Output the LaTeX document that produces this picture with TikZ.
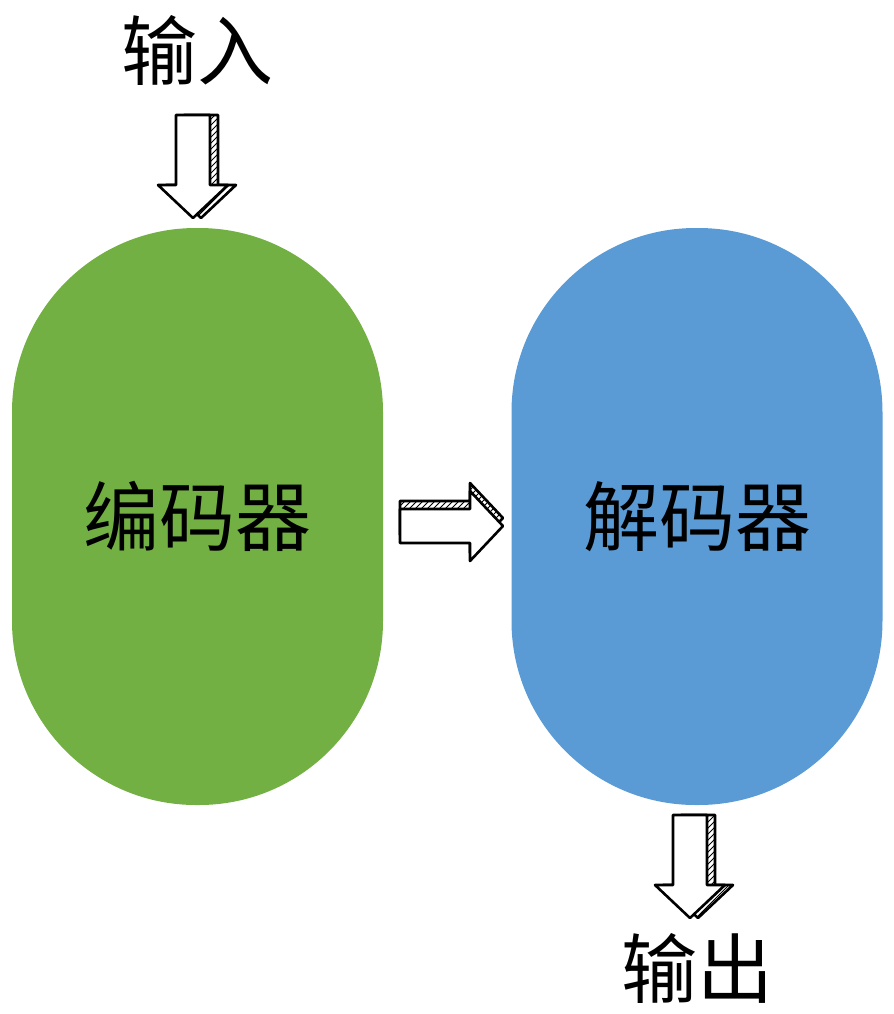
\documentclass[tikz,border=0pt]{standalone}
\usepackage{fontspec}
\newfontfamily\cjk{Noto Sans CJK SC}
\usetikzlibrary{patterns,positioning}
\definecolor{encgreen}{HTML}{72B043}
\definecolor{decblue}{HTML}{5B9BD5}
\tikzset{
  block/.style={rounded corners=92pt, minimum width=185.5pt, minimum height=288.5pt, inner sep=0pt, font=\cjk\fontsize{38}{42}\selectfont},
  label/.style={font=\cjk\fontsize{38}{42}\selectfont, inner sep=0pt},
  sketch/.style={draw=black, line width=1.3pt, fill=white, line join=round},
  hatch/.style={draw=black, line width=1.3pt, pattern=north east lines, line join=round}
}
% #1 = tail point, #2 = rotation, #3 = hatch offset
\newcommand{\SketchArrow}[3]{%
  \begin{scope}[shift={#1}, shift={#3}, rotate=#2]
    \draw[hatch] (0,-17) -- (70,-17) -- (70,-35) -- (103,0) -- (70,35) -- (70,17) -- (0,17) -- cycle;
  \end{scope}
  \begin{scope}[shift={#1}, rotate=#2]
    \draw[sketch] (0,-17) -- (70,-17) -- (70,-35) -- (103,0) -- (70,35) -- (70,17) -- (0,17) -- cycle;
  \end{scope}}
\begin{document}
\begin{tikzpicture}[x=0.5pt,y=-0.5pt]
\useasboundingbox (0,0) rectangle (894,1014);
\node[block, fill=encgreen] (enc) at (197.5,516.5) {编码器};
\node[block, fill=decblue] (dec) at (697,516.5) {解码器};
\node[label] (in) at (197,50) {输入};
\node[label] (out) at (697,968) {输出};
% sketchy block arrows
\SketchArrow{(193,115)}{-90}{(8,0)}
\SketchArrow{(400,526)}{0}{(0,-8)}
\SketchArrow{(690,815)}{-90}{(8,0)}
\end{tikzpicture}
\end{document}
